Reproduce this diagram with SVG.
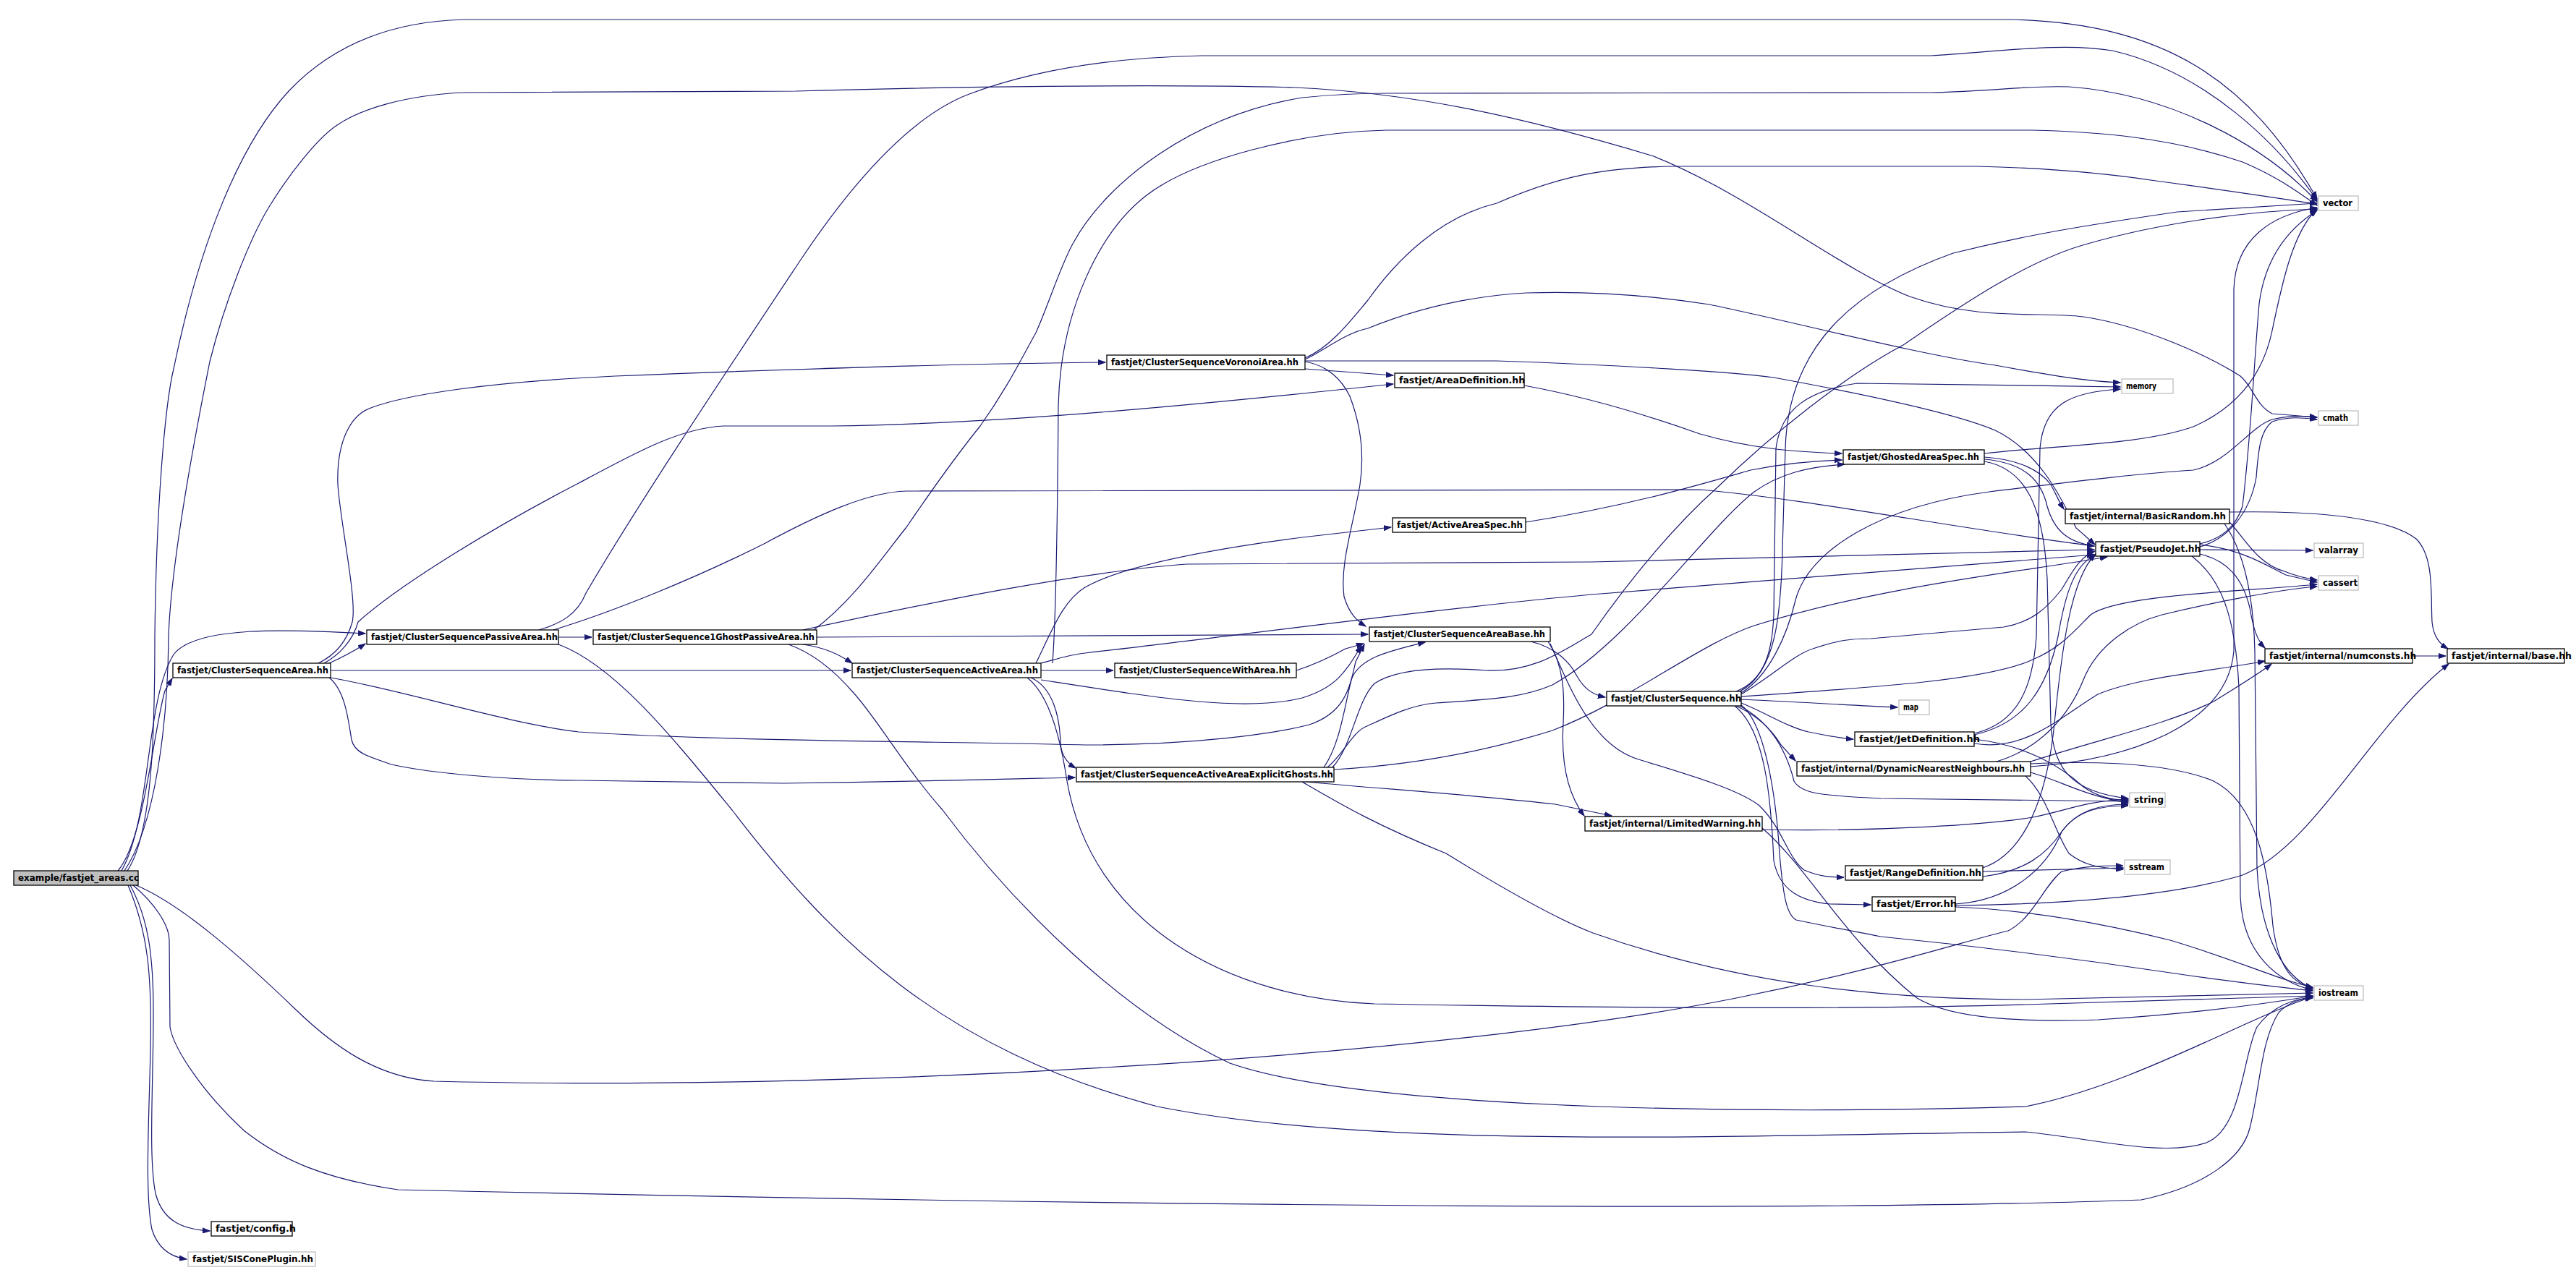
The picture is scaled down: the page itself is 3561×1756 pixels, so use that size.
<svg xmlns="http://www.w3.org/2000/svg" width="3561" height="1756" viewBox="0 0 3561 1756">
<style>
.e{fill:none;stroke:#191970;stroke-width:1.2;marker-end:url(#a)}
.b{fill:#fff;stroke:#000;stroke-width:1.3}
.g{fill:#fff;stroke:#bfbfbf;stroke-width:1.3}
.s{fill:#bfbfbf;stroke:#000;stroke-width:1.3}
text{font-family:"DejaVu Sans","Liberation Sans",sans-serif;font-size:12px;font-weight:bold;fill:#000}
</style>
<defs>
<marker id="a" markerWidth="11" markerHeight="8" refX="10" refY="4" orient="auto" markerUnits="userSpaceOnUse"><path d="M0,0.5 L10,4 L0,7.5 z" fill="#191970" stroke="#191970" stroke-width="1"/></marker>
</defs>
<rect width="3561" height="1756" fill="#fff"/>
<g id="edges">
<path class="e" d="M163,1204 C200,1160 212,1010 228,955 L238,938"/>
<path class="e" d="M168,1204 C210,1130 200,970 240,905 C270,865 400,870 505,876"/>
<path class="e" d="M176,1204 C212,1150 214,1000 214,880 C216,700 228,560 240,510 C275,340 330,200 400,125 C460,62 540,30 640,27 L2780,27 C2990,32 3110,110 3203,275"/>
<path class="e" d="M172,1204 C215,1140 232,1000 233,880 C236,790 262,640 290,500 C310,420 345,330 372,286 C400,240 440,190 466,173 C500,150 560,132 640,128 L1100,126 C1300,120 1600,116 1789,121 C1950,128 2100,160 2286,216 C2420,270 2540,370 2640,410 C2740,445 2820,430 2880,438 C2960,450 3050,490 3097,520 C3115,535 3118,560 3141,572 L3203,577"/>
<path class="e" d="M188,1224 C250,1250 330,1320 410,1397 C460,1445 520,1490 600,1495 C1200,1510 2000,1460 2400,1380 C2600,1340 2720,1300 2776,1287 C2810,1270 2825,1225 2850,1205 C2880,1198 2900,1197 2935,1197"/>
<path class="e" d="M184,1224 C215,1250 234,1280 234,1300 L235,1420 C240,1450 280,1510 337,1563 C390,1605 450,1630 550,1645 C1200,1660 2400,1680 2960,1659 C3050,1640 3100,1600 3110,1560 C3125,1500 3125,1440 3150,1400 C3165,1385 3180,1381 3197,1380"/>
<path class="e" d="M180,1224 C205,1270 212,1320 212,1400 C212,1500 205,1600 215,1650 C225,1690 255,1700 290,1702"/>
<path class="e" d="M177,1224 C205,1290 210,1350 208,1450 C206,1550 200,1650 210,1700 C218,1725 235,1738 258,1741"/>
<path class="e" d="M455,917 C475,908 490,900 505,890"/>
<path class="e" d="M457,927 L1176,927"/>
<path class="e" d="M440,917 C465,905 480,885 487,860 C494,830 470,720 467,670 C465,610 485,575 510,565 C560,545 680,528 850,520 C1050,512 1300,503 1528,501"/>
<path class="e" d="M448,917 C470,905 488,885 495,860 C550,810 680,730 800,668 C880,625 940,592 1000,589 L1150,589 C1400,586 1700,555 1926,531"/>
<path class="e" d="M457,937 C560,955 700,1000 800,1012 C1000,1025 1300,1025 1500,1030 C1650,1030 1760,1015 1810,1002 C1860,985 1866,950 1874,915 L1886,891"/>
<path class="e" d="M455,937 C478,955 482,1000 486,1023 C490,1040 505,1045 541,1057 C600,1070 700,1078 800,1079 L1083,1083 C1300,1080 1400,1077 1486,1075"/>
<path class="e" d="M772,881 L818,881"/>
<path class="e" d="M745,871 C775,862 798,850 810,820 C880,700 1000,520 1107,359 C1180,250 1260,160 1340,130 C1420,100 1520,80 1661,77 L2669,77 C2760,72 2850,58 2920,70 C3050,100 3150,200 3203,277"/>
<path class="e" d="M765,871 C850,845 960,800 1056,752 C1130,712 1200,680 1253,679 L2350,677 C2500,690 2700,730 2895,755"/>
<path class="e" d="M772,891 C850,920 930,1020 1012,1120 C1150,1300 1300,1450 1600,1530 C1900,1590 2400,1570 2800,1565 C2900,1575 2990,1600 3050,1580 C3100,1560 3100,1460 3120,1420 C3140,1392 3170,1381 3197,1379"/>
<path class="e" d="M1110,891 C1140,895 1160,905 1178,917"/>
<path class="e" d="M1129,881 L1891,877"/>
<path class="e" d="M1110,871 C1300,830 1500,790 1640,780 L2200,777 C2500,770 2700,763 2895,760"/>
<path class="e" d="M1125,871 C1180,830 1220,770 1253,729 C1300,660 1330,620 1355,589 C1390,540 1410,500 1432,460 C1450,420 1465,370 1483,337 C1530,250 1650,160 1800,135 C1850,130 1880,129 1916,129 L2669,128 C2760,126 2800,118 2860,120 C3000,130 3130,200 3203,279"/>
<path class="e" d="M1090,891 C1129,905 1160,935 1179,957 C1210,990 1250,1060 1303,1120 C1400,1250 1550,1400 1700,1470 C1900,1540 2500,1540 2800,1530 C2950,1500 3100,1410 3197,1378"/>
<path class="e" d="M1439,927 L1539,927"/>
<path class="e" d="M1432,917 C1455,870 1470,830 1500,812 C1560,778 1700,756 1800,743 L1923,729"/>
<path class="e" d="M1439,940 C1600,965 1720,985 1800,965 C1850,950 1862,925 1882,893"/>
<path class="e" d="M1425,937 C1455,950 1465,990 1466,1027 C1467,1045 1475,1055 1487,1062"/>
<path class="e" d="M1439,917 C1465,910 1480,905 1500,903 C1700,880 2000,840 2200,822 C2500,800 2700,783 2895,767"/>
<path class="e" d="M1455,917 C1460,850 1462,700 1463,561 C1466,430 1520,320 1585,270 C1650,220 1800,182 1916,180 L2809,180 C2900,182 3000,190 3100,224 C3150,245 3180,268 3203,284"/>
<path class="e" d="M1420,937 C1450,960 1466,1020 1475,1080 C1510,1280 1700,1380 1900,1388 C2300,1395 2600,1395 2800,1389 L3197,1377"/>
<path class="e" d="M1792,927 C1820,918 1840,908 1860,897 L1885,890"/>
<path class="e" d="M1804,510 L1926,519"/>
<path class="e" d="M1804,500 C1835,505 1855,525 1866,548 C1882,590 1886,630 1880,670 C1870,730 1852,780 1858,825 C1865,848 1875,858 1888,866"/>
<path class="e" d="M1804,495 C1840,480 1870,440 1891,415 C1930,360 1990,300 2069,281 C2140,250 2200,232 2312,230 L2733,230 C2820,232 2900,238 2980,250 C3100,266 3160,276 3203,282"/>
<path class="e" d="M1804,497 C1830,485 1860,460 1891,454 C1950,430 2020,410 2110,405 C2200,402 2280,408 2363,421 C2480,445 2650,490 2758,505 C2830,518 2880,527 2931,529"/>
<path class="e" d="M1804,499 L2069,499 C2250,505 2400,515 2452,522 C2550,540 2700,570 2758,595 C2820,625 2850,690 2870,730 L2896,753"/>
<path class="e" d="M2107,533 C2200,550 2280,575 2350,600 C2420,620 2480,625 2546,627"/>
<path class="e" d="M2109,722 C2250,700 2350,670 2420,650 C2470,640 2510,637 2546,636"/>
<path class="e" d="M2116,887 C2150,895 2170,915 2180,935 C2190,952 2200,960 2219,964"/>
<path class="e" d="M2140,887 C2162,920 2163,960 2161,1000 C2158,1050 2165,1095 2190,1128"/>
<path class="e" d="M2143,890 C2170,950 2200,1030 2265,1050 C2330,1070 2400,1090 2431,1113 C2465,1145 2470,1185 2494,1203 C2515,1212 2530,1213 2549,1213"/>
<path class="e" d="M1830,1061 C1852,1030 1858,980 1868,940 C1878,910 1920,900 1970,888"/>
<path class="e" d="M1835,1061 C1860,1040 1870,1010 1892,1003 C1920,990 1950,975 1985,972 C2050,967 2100,967 2146,947 C2250,890 2360,730 2425,680 C2460,655 2500,645 2550,642"/>
<path class="e" d="M1842,1061 C1870,1030 1875,970 1900,945 C1930,925 1990,922 2054,927 C2120,930 2160,900 2200,877 C2240,820 2300,740 2375,673 C2450,600 2550,520 2631,477 C2700,430 2800,360 2886,337 C2980,310 3100,292 3203,289"/>
<path class="e" d="M1844,1064 C1950,1058 2050,1040 2146,1010 C2250,970 2350,890 2425,865 C2600,810 2800,790 2913,770"/>
<path class="e" d="M1806,1081 C1900,1090 2050,1100 2150,1112 L2228,1128"/>
<path class="e" d="M1800,1081 C1850,1110 1900,1140 1999,1180 C2080,1230 2150,1270 2202,1290 C2400,1360 2600,1382 2800,1382 L3197,1373"/>
<path class="e" d="M2436,1147 C2600,1150 2750,1140 2810,1130 C2860,1120 2880,1108 2942,1105"/>
<path class="e" d="M2436,1145 C2500,1200 2550,1300 2650,1380 C2700,1410 2800,1413 2900,1410 C3050,1400 3150,1385 3197,1377"/>
<path class="e" d="M2407,967 C2480,970 2550,975 2623,978"/>
<path class="e" d="M2407,972 C2440,985 2470,1005 2500,1012 C2530,1018 2545,1021 2562,1022"/>
<path class="e" d="M2400,976 C2430,990 2450,1010 2462,1030 L2482,1052"/>
<path class="e" d="M2405,976 C2450,1000 2470,1040 2480,1080 C2490,1098 2520,1100 2600,1104 L2942,1108"/>
<path class="e" d="M2398,976 C2440,1010 2448,1100 2452,1190 C2460,1232 2490,1246 2530,1250 L2586,1251"/>
<path class="e" d="M2407,975 C2440,1000 2455,1100 2460,1180 C2465,1240 2470,1265 2483,1272 C2530,1282 2560,1287 2600,1295 C2750,1310 2900,1330 3000,1345 C3100,1360 3160,1366 3197,1370"/>
<path class="e" d="M2400,956 C2440,940 2450,900 2452,850 L2455,620 C2462,565 2500,540 2567,530 C2650,530 2800,533 2931,535"/>
<path class="e" d="M2405,956 C2455,930 2462,850 2464,760 L2468,620 C2472,480 2560,400 2700,350 C2800,325 2880,312 3010,293 L3203,281"/>
<path class="e" d="M2407,958 C2445,935 2470,880 2482,830 C2500,760 2600,700 2750,680 C2850,668 2950,655 3032,650 C3080,640 3110,590 3141,580 C3165,574 3185,575 3203,577"/>
<path class="e" d="M2407,960 C2450,935 2480,905 2506,897 C2540,885 2560,883 2586,883 L2770,867 C2810,860 2830,840 2850,815 C2865,790 2875,770 2896,762"/>
<path class="e" d="M2407,963 C2600,950 2750,940 2810,912 C2850,895 2870,870 2890,850 C2930,822 3100,818 3203,808"/>
<path class="e" d="M2743,627 C2850,615 2960,615 3032,590 C3100,560 3130,510 3141,457 C3155,390 3170,320 3203,289"/>
<path class="e" d="M2743,632 C2790,635 2820,650 2835,670 C2843,685 2847,695 2853,704"/>
<path class="e" d="M2743,635 C2800,640 2822,665 2830,700 C2840,735 2860,750 2895,755"/>
<path class="e" d="M2743,638 C2800,648 2825,700 2830,800 L2835,1000 C2838,1060 2860,1095 2942,1104"/>
<path class="e" d="M3082,708 C3200,706 3300,715 3340,745 C3365,770 3360,820 3362,860 C3364,880 3372,890 3384,897"/>
<path class="e" d="M3082,722 C3100,740 3120,780 3158,790 C3175,797 3190,800 3203,802"/>
<path class="e" d="M3075,724 C3100,760 3115,820 3117,900 L3120,1200 C3125,1300 3160,1352 3197,1367"/>
<path class="e" d="M3041,760 L3197,761"/>
<path class="e" d="M3041,753 C3100,760 3130,780 3160,795 L3203,805"/>
<path class="e" d="M3041,766 C3080,775 3100,800 3110,840 C3115,870 3120,885 3131,896"/>
<path class="e" d="M3041,752 C3070,745 3090,730 3100,700 C3112,600 3116,500 3123,420 C3132,350 3170,312 3203,291"/>
<path class="e" d="M3041,756 C3080,745 3110,710 3119,660 C3122,620 3125,595 3141,583 C3165,575 3185,578 3203,580"/>
<path class="e" d="M3030,769 C3070,800 3090,850 3095,950 L3097,1240 C3100,1320 3150,1358 3197,1369"/>
<path class="e" d="M2729,1022 C2800,1030 2850,1060 2880,1088 C2900,1102 2920,1106 2942,1107"/>
<path class="e" d="M2729,1016 C2800,1000 2830,950 2845,880 C2855,820 2868,780 2897,767"/>
<path class="e" d="M2729,1028 C2800,1040 2850,990 2900,960 C2960,935 3060,928 3131,914"/>
<path class="e" d="M2729,1014 C2790,1000 2810,950 2815,880 L2820,620 C2825,560 2860,542 2931,538"/>
<path class="e" d="M2807,1068 C2850,1080 2880,1100 2942,1110"/>
<path class="e" d="M2800,1073 C2830,1100 2840,1150 2860,1180 C2880,1196 2900,1200 2935,1202"/>
<path class="e" d="M2807,1056 C2900,1052 3000,1055 3060,1080 C3120,1110 3135,1200 3142,1280 C3150,1340 3170,1360 3197,1366"/>
<path class="e" d="M2760,1053 C2820,1035 2860,990 2880,940 C2900,890 2950,860 2989,850 C3050,835 3150,815 3203,811"/>
<path class="e" d="M2807,1053 C2900,1023 3000,1000 3060,970 C3100,945 3125,930 3140,918"/>
<path class="e" d="M2807,1060 C2950,1050 3080,1000 3088,900 L3088,400 C3090,330 3140,297 3203,287"/>
<path class="e" d="M2741,1205 L2935,1200"/>
<path class="e" d="M2741,1212 C2800,1205 2830,1180 2850,1150 C2870,1122 2900,1112 2942,1112"/>
<path class="e" d="M2741,1200 C2800,1180 2830,1100 2840,1000 C2850,900 2862,800 2897,766"/>
<path class="e" d="M2703,1250 C2780,1245 2830,1200 2850,1150 C2870,1122 2900,1114 2942,1114"/>
<path class="e" d="M2703,1252 C2850,1250 3000,1240 3100,1210 C3200,1170 3280,1000 3385,918"/>
<path class="e" d="M2703,1254 C2800,1258 2900,1275 3000,1300 C3100,1330 3150,1355 3197,1365"/>
<path class="e" d="M3335,907 L3381,907"/>
</g>
<g id="n0"><rect class="s" x="19" y="1204" width="172" height="20"/><text x="25" y="1218" textLength="167" lengthAdjust="spacingAndGlyphs">example/fastjet_areas.cc</text></g>
<g id="n1"><rect class="b" x="239" y="917" width="218" height="20"/><text x="245" y="931" textLength="209" lengthAdjust="spacingAndGlyphs">fastjet/ClusterSequenceArea.hh</text></g>
<g id="n2"><rect class="b" x="507" y="871" width="265" height="20"/><text x="513" y="885" textLength="258" lengthAdjust="spacingAndGlyphs">fastjet/ClusterSequencePassiveArea.hh</text></g>
<g id="n3"><rect class="b" x="820" y="871" width="309" height="20"/><text x="826" y="885" textLength="300" lengthAdjust="spacingAndGlyphs">fastjet/ClusterSequence1GhostPassiveArea.hh</text></g>
<g id="n4"><rect class="b" x="1178" y="917" width="261" height="20"/><text x="1184" y="931" textLength="251" lengthAdjust="spacingAndGlyphs">fastjet/ClusterSequenceActiveArea.hh</text></g>
<g id="n5"><rect class="b" x="1541" y="917" width="251" height="20"/><text x="1547" y="931" textLength="237" lengthAdjust="spacingAndGlyphs">fastjet/ClusterSequenceWithArea.hh</text></g>
<g id="n6"><rect class="b" x="1530" y="491" width="274" height="20"/><text x="1536" y="505" textLength="259" lengthAdjust="spacingAndGlyphs">fastjet/ClusterSequenceVoronoiArea.hh</text></g>
<g id="n7"><rect class="b" x="1928" y="516" width="179" height="20"/><text x="1934" y="530" textLength="174" lengthAdjust="spacingAndGlyphs">fastjet/AreaDefinition.hh</text></g>
<g id="n8"><rect class="b" x="1925" y="716" width="184" height="20"/><text x="1931" y="730" textLength="174" lengthAdjust="spacingAndGlyphs">fastjet/ActiveAreaSpec.hh</text></g>
<g id="n9"><rect class="b" x="1893" y="867" width="250" height="20"/><text x="1899" y="881" textLength="237" lengthAdjust="spacingAndGlyphs">fastjet/ClusterSequenceAreaBase.hh</text></g>
<g id="n10"><rect class="b" x="1488" y="1061" width="356" height="20"/><text x="1494" y="1075" textLength="349" lengthAdjust="spacingAndGlyphs">fastjet/ClusterSequenceActiveAreaExplicitGhosts.hh</text></g>
<g id="n11"><rect class="b" x="2191" y="1129" width="245" height="20"/><text x="2197" y="1143" textLength="237" lengthAdjust="spacingAndGlyphs">fastjet/internal/LimitedWarning.hh</text></g>
<g id="n12"><rect class="b" x="2221" y="956" width="186" height="20"/><text x="2227" y="970" textLength="180" lengthAdjust="spacingAndGlyphs">fastjet/ClusterSequence.hh</text></g>
<g id="n13"><rect class="b" x="2548" y="622" width="195" height="20"/><text x="2554" y="636" textLength="182" lengthAdjust="spacingAndGlyphs">fastjet/GhostedAreaSpec.hh</text></g>
<g id="n14"><rect class="b" x="2855" y="704" width="227" height="20"/><text x="2861" y="718" textLength="216" lengthAdjust="spacingAndGlyphs">fastjet/internal/BasicRandom.hh</text></g>
<g id="n15"><rect class="b" x="2897" y="749" width="144" height="20"/><text x="2903" y="763" textLength="139" lengthAdjust="spacingAndGlyphs">fastjet/PseudoJet.hh</text></g>
<g id="n16"><rect class="b" x="2564" y="1012" width="165" height="20"/><text x="2570" y="1026" textLength="167" lengthAdjust="spacingAndGlyphs">fastjet/JetDefinition.hh</text></g>
<g id="n17"><rect class="b" x="2484" y="1053" width="323" height="20"/><text x="2490" y="1067" textLength="309" lengthAdjust="spacingAndGlyphs">fastjet/internal/DynamicNearestNeighbours.hh</text></g>
<g id="n18"><rect class="b" x="2551" y="1197" width="190" height="20"/><text x="2557" y="1211" textLength="182" lengthAdjust="spacingAndGlyphs">fastjet/RangeDefinition.hh</text></g>
<g id="n19"><rect class="b" x="2588" y="1240" width="115" height="20"/><text x="2594" y="1254" textLength="111" lengthAdjust="spacingAndGlyphs">fastjet/Error.hh</text></g>
<g id="n20"><rect class="g" x="2625" y="968" width="42" height="20"/><text x="2631" y="982" textLength="21" lengthAdjust="spacingAndGlyphs">map</text></g>
<g id="n21"><rect class="g" x="3205" y="271" width="55" height="20"/><text x="3211" y="285" textLength="41" lengthAdjust="spacingAndGlyphs">vector</text></g>
<g id="n22"><rect class="g" x="2933" y="524" width="71" height="20"/><text x="2939" y="538" textLength="42" lengthAdjust="spacingAndGlyphs">memory</text></g>
<g id="n23"><rect class="g" x="3205" y="568" width="55" height="20"/><text x="3211" y="582" textLength="35" lengthAdjust="spacingAndGlyphs">cmath</text></g>
<g id="n24"><rect class="g" x="3199" y="751" width="68" height="20"/><text x="3205" y="765" textLength="55" lengthAdjust="spacingAndGlyphs">valarray</text></g>
<g id="n25"><rect class="g" x="3205" y="796" width="55" height="20"/><text x="3211" y="810" textLength="48" lengthAdjust="spacingAndGlyphs">cassert</text></g>
<g id="n26"><rect class="b" x="3131" y="897" width="204" height="20"/><text x="3137" y="911" textLength="203" lengthAdjust="spacingAndGlyphs">fastjet/internal/numconsts.hh</text></g>
<g id="n27"><rect class="b" x="3383" y="897" width="162" height="20"/><text x="3389" y="911" textLength="166" lengthAdjust="spacingAndGlyphs">fastjet/internal/base.hh</text></g>
<g id="n28"><rect class="g" x="2944" y="1096" width="49" height="20"/><text x="2950" y="1110" textLength="41" lengthAdjust="spacingAndGlyphs">string</text></g>
<g id="n29"><rect class="g" x="2937" y="1189" width="63" height="20"/><text x="2943" y="1203" textLength="49" lengthAdjust="spacingAndGlyphs">sstream</text></g>
<g id="n30"><rect class="g" x="3199" y="1363" width="68" height="20"/><text x="3205" y="1377" textLength="55" lengthAdjust="spacingAndGlyphs">iostream</text></g>
<g id="n31"><rect class="b" x="292" y="1689" width="112" height="20"/><text x="298" y="1703" textLength="111" lengthAdjust="spacingAndGlyphs">fastjet/config.h</text></g>
<g id="n32"><rect class="g" x="260" y="1731" width="176" height="20"/><text x="266" y="1745" textLength="167" lengthAdjust="spacingAndGlyphs">fastjet/SISConePlugin.hh</text></g>
</svg>
